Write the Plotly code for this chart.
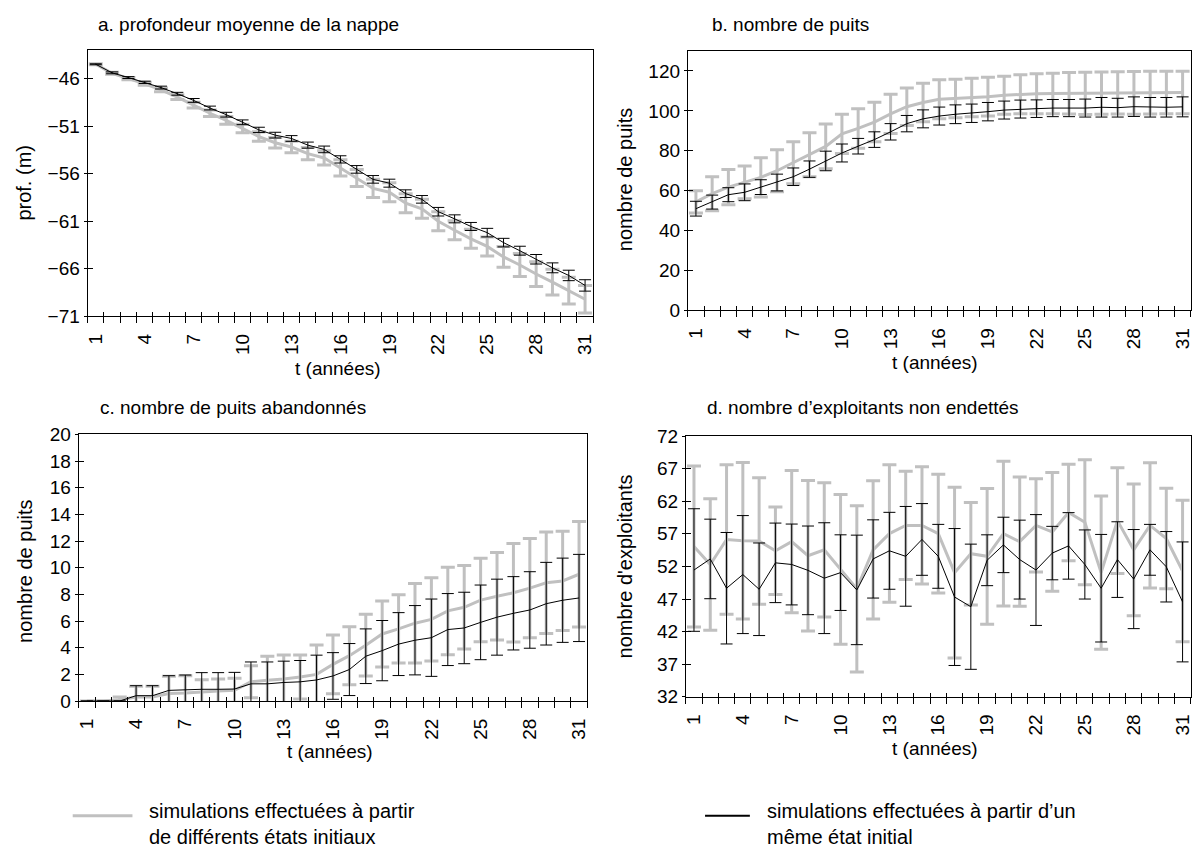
import plotly.graph_objects as go

# ---------------- data ----------------
t = list(range(1, 32))
x_tick_labels = [1, 4, 7, 10, 13, 16, 19, 22, 25, 28, 31]

# a. profondeur moyenne de la nappe (m)
a_diff_mean = [-44.5, -45.45, -46.0, -46.55, -47.2, -47.95, -48.8, -49.65, -50.4, -51.25,
               -52.1, -52.75, -53.2, -53.9, -54.35, -55.4, -56.45, -57.55, -57.95, -59.1,
               -59.7, -61.0, -61.95, -62.85, -63.65, -64.75, -65.6, -66.55, -67.4, -68.3, -69.2]
a_diff_err = [0.05, 0.1, 0.12, 0.15, 0.2, 0.25, 0.3, 0.35, 0.4, 0.45, 0.5, 0.55, 0.6, 0.65, 0.75,
              0.85, 0.9, 0.95, 1.0, 1.0, 1.0, 1.0, 1.0, 1.0, 1.0, 1.1, 1.2, 1.3, 1.35, 1.4, 1.45]
a_same_mean = [-44.5, -45.4, -45.9, -46.4, -46.95, -47.6, -48.3, -49.1, -49.8, -50.6,
               -51.4, -51.95, -52.3, -53.0, -53.45, -54.5, -55.55, -56.6, -57.0, -58.1,
               -58.7, -60.0, -60.75, -61.55, -62.2, -63.25, -64.1, -65.0, -65.9, -66.7, -67.75]
a_same_err = [0.05, 0.1, 0.1, 0.12, 0.15, 0.15, 0.2, 0.2, 0.25, 0.25, 0.28, 0.3, 0.3, 0.32, 0.35,
              0.38, 0.4, 0.4, 0.42, 0.4, 0.4, 0.45, 0.42, 0.42, 0.45, 0.45, 0.47, 0.5, 0.52, 0.55, 0.6]
a_yticks = [-71, -66, -61, -56, -51, -46]

# b. nombre de puits
b_diff_mean = [54.4, 58.5, 61.8, 64.2, 66.7, 70.0, 74.0, 78.0, 82.2, 88.5, 91.2, 94.4, 98.5,
               102.1, 104.2, 105.8, 106.2, 106.7, 107.1, 107.8, 108.3, 108.6, 108.7, 108.8,
               108.8, 108.9, 109.0, 109.0, 109.1, 109.2, 109.2]
b_diff_err = [5.6, 8.5, 8.8, 8.2, 9.8, 10.5, 10.5, 11.0, 11.2, 9.8, 9.9, 9.9, 9.8, 9.4, 9.6,
              9.8, 9.6, 9.6, 9.7, 9.5, 9.8, 10.0, 10.2, 10.4, 10.6, 10.6, 10.6, 10.7, 10.7, 10.7, 10.7]
b_same_mean = [51.0, 54.3, 58.0, 59.2, 61.8, 64.1, 67.0, 70.8, 74.9, 78.9, 82.3, 85.6, 89.5,
               93.6, 96.0, 97.4, 98.3, 98.8, 99.6, 100.4, 100.9, 101.1, 101.4, 101.4, 101.4,
               101.8, 101.6, 102.1, 101.8, 101.8, 102.0]
b_same_err = [3.7, 3.5, 3.5, 4.2, 3.7, 4.2, 4.4, 4.1, 4.9, 4.5, 3.9, 3.9, 4.1, 4.1, 4.5, 4.5,
              4.7, 4.6, 4.6, 4.5, 4.5, 4.4, 4.3, 4.3, 4.5, 4.9, 4.7, 4.9, 4.9, 4.9, 5.0]
b_yticks = [0, 20, 40, 60, 80, 100, 120]

# c. nombre de puits abandonnés
c_diff_mean = [0, 0, 0.1, 0.3, 0.3, 0.56, 0.6, 0.7, 0.75, 0.8, 1.44, 1.56, 1.65, 1.8, 2.0,
               2.75, 3.4, 4.19, 5.03, 5.41, 5.84, 6.12, 6.76, 7.03, 7.57, 7.86, 8.12, 8.47,
               8.87, 9.01, 9.51]
c_diff_err = [0, 0, 0.2, 0.8, 0.8, 1.3, 1.3, 0.9, 0.9, 0.9, 1.2, 1.8, 1.8, 1.65, 2.2, 2.2,
              2.18, 2.31, 2.47, 2.56, 2.98, 3.12, 3.28, 3.13, 3.13, 3.28, 3.7, 3.72, 3.8, 3.72, 3.95]
c_same_mean = [0, 0, 0, 0.4, 0.4, 0.8, 0.85, 0.88, 0.88, 0.9, 1.29, 1.29, 1.39, 1.44, 1.58,
               1.88, 2.36, 3.36, 3.78, 4.27, 4.56, 4.75, 5.36, 5.48, 5.9, 6.29, 6.58, 6.83,
               7.3, 7.56, 7.73]
c_same_err = [0, 0, 0, 0.75, 0.75, 1.1, 1.1, 1.25, 1.25, 1.25, 1.64, 1.64, 1.6, 1.6, 1.86,
              1.75, 1.95, 2.05, 2.26, 2.36, 2.6, 2.9, 2.7, 2.68, 2.8, 2.85, 2.75, 2.87, 3.1, 3.16, 3.27]
c_yticks = [0, 2, 4, 6, 8, 10, 12, 14, 16, 18, 20]

# d. nombre d'exploitants non endettés
d_diff_mean = [55.05, 52.3, 56.14, 55.95, 55.9, 54.4, 55.8, 53.65, 54.55, 51.55, 48.56,
               54.55, 57.04, 58.29, 58.29, 57.04, 51.05, 53.95, 53.55, 57.04, 55.8, 58.29,
               57.3, 60.28, 58.78, 51.05, 59.03, 54.55, 58.29, 56.29, 51.3]
d_diff_err = [12.35, 10.1, 11.47, 12.0, 9.7, 6.7, 10.9, 11.55, 10.3, 11.5, 12.74, 10.6, 10.55,
              8.3, 9.0, 9.1, 13.1, 7.86, 10.4, 11.1, 9.9, 7.16, 9.1, 7.4, 9.6, 11.77, 8.1,
              10.1, 9.6, 7.7, 10.85]
d_same_mean = [51.45, 53.15, 48.66, 50.75, 48.5, 52.55, 52.3, 51.4, 50.2, 51.05, 48.4, 53.15,
               54.4, 53.55, 56.14, 53.55, 47.31, 45.82, 52.95, 55.3, 53.05, 51.45, 54.05,
               55.15, 52.3, 48.66, 53.05, 50.06, 54.55, 51.95, 46.56]
d_same_err = [9.4, 6.1, 8.55, 9.05, 7.1, 6.1, 6.2, 6.8, 8.5, 5.8, 8.4, 6.0, 5.9, 7.65, 5.5,
              4.9, 10.5, 9.6, 3.9, 4.25, 6.05, 8.5, 4.1, 5.1, 5.3, 8.25, 5.8, 7.6, 3.9, 5.4, 9.2]
d_yticks = [32, 37, 42, 47, 52, 57, 62, 67, 72]

panel_titles = ["a. profondeur moyenne de la nappe", "b. nombre de puits",
                "c. nombre de puits abandonnés", "d. nombre d\u2019exploitants non endettés"]
y_titles = ["prof. (m)", "nombre de puits", "nombre de puits", "nombre d'exploitants"]
x_title = "t (années)"
legend_labels = ["simulations effectuées à partir<br>de différents états initiaux",
                 "simulations effectuées à partir d\u2019un<br>même état initial"]

# ---------------- style / layout ----------------
W, H = 1196, 861
GRAY = "#C0C0C0"
FONT = "Liberation Sans, Arial, sans-serif"
TICK_FS = 19
LABEL_FS = 20
TITLE_FS = 19
LEGEND_FS = 20


def px_x(v):
    return v / W


def px_y(v):
    return 1 - v / H


panels = [
    dict(diff=(a_diff_mean, a_diff_err), same=(a_same_mean, a_same_err), yticks=a_yticks,
         yrange=[-71, -43], box=(85, 592.7, 41, 314)),
    dict(diff=(b_diff_mean, b_diff_err), same=(b_same_mean, b_same_err), yticks=b_yticks,
         yrange=[0, 130], box=(687.7, 1192.7, 42, 308)),
    dict(diff=(c_diff_mean, c_diff_err), same=(c_same_mean, c_same_err), yticks=c_yticks,
         yrange=[0, 20], box=(76, 586.7, 435, 708.3)),
    dict(diff=(d_diff_mean, d_diff_err), same=(d_same_mean, d_same_err), yticks=d_yticks,
         yrange=[32, 72], box=(685.7, 1192.7, 436.7, 704)),
]

boundaries = [k + 0.5 for k in range(0, 32)]

fig = go.Figure()
layout_axes = {}

for i, p in enumerate(panels):
    n = i + 1
    xs = "x" if n == 1 else f"x{n}"
    ys = "y" if n == 1 else f"y{n}"
    xo, yo = f"x{n + 4}", f"y{n + 4}"
    dm, de = p["diff"]
    sm, se = p["same"]
    fig.add_trace(go.Scatter(
        x=t, y=dm, mode="lines", line=dict(color=GRAY, width=3),
        error_y=dict(type="data", array=de, visible=True, color=GRAY, thickness=3, width=7),
        xaxis=xs, yaxis=ys, cliponaxis=False, showlegend=False, hoverinfo="skip"))
    fig.add_trace(go.Scatter(
        x=t, y=sm, mode="lines", line=dict(color="black", width=1),
        error_y=dict(type="data", array=se, visible=True, color="black", thickness=1, width=6),
        xaxis=xs, yaxis=ys, cliponaxis=False, showlegend=False, hoverinfo="skip"))
    # invisible helper trace for overlay axes (inner half of the crossing ticks)
    fig.add_trace(go.Scatter(x=[None], y=[None], xaxis=xo, yaxis=yo,
                             showlegend=False, hoverinfo="skip"))

    x0, x1, y0, y1 = p["box"]
    xdom = [px_x(x0), min(px_x(x1), 1.0)]
    ydom = [px_y(y1), px_y(y0)]
    xkey = "xaxis" if n == 1 else f"xaxis{n}"
    ykey = "yaxis" if n == 1 else f"yaxis{n}"
    layout_axes[xkey] = dict(
        domain=xdom, anchor=ys, range=[0.5, 31.5], tickmode="array",
        tickvals=x_tick_labels, ticktext=[str(v) for v in x_tick_labels],
        tickangle=-90, ticks="", ticklabelstandoff=9,
        showline=True, linecolor="black", linewidth=1, mirror=True,
        showgrid=False, zeroline=False,
        tickfont=dict(family=FONT, size=TICK_FS, color="black"),
        minor=dict(tickmode="array", tickvals=boundaries, ticks="outside",
                   ticklen=6, tickwidth=1, tickcolor="black", showgrid=False))
    layout_axes[ykey] = dict(
        domain=ydom, anchor=xs, range=p["yrange"], tickmode="array",
        tickvals=p["yticks"], ticks="outside", ticklen=3, tickwidth=1, tickcolor="black",
        showline=True, linecolor="black", linewidth=1, mirror=True,
        showgrid=False, zeroline=False,
        tickfont=dict(family=FONT, size=TICK_FS, color="black"))
    layout_axes[f"xaxis{n + 4}"] = dict(
        overlaying=xs, anchor=ys, side="bottom", range=[0.5, 31.5], tickmode="array",
        tickvals=boundaries, ticks="inside", ticklen=4, tickwidth=1, tickcolor="black",
        showticklabels=False, showgrid=False, zeroline=False, showline=False)
    layout_axes[f"yaxis{n + 4}"] = dict(
        overlaying=ys, anchor=xs, side="left", range=p["yrange"], tickmode="array",
        tickvals=p["yticks"], ticks="inside", ticklen=5, tickwidth=1, tickcolor="black",
        showticklabels=False, showgrid=False, zeroline=False, showline=False)

annotations = []
title_pos = [(93, 15), (710, 15), (95, 407), (705, 407)]
for (tx, ty), txt in zip(title_pos, panel_titles):
    annotations.append(dict(text=txt, x=px_x(tx), y=px_y(ty), xref="paper", yref="paper",
                            xanchor="left", yanchor="middle", showarrow=False,
                            font=dict(family=FONT, size=TITLE_FS, color="black")))
ytitle_pos = [(21, 177), (624, 174), (22, 575), (625, 570)]
for (tx, ty), txt in zip(ytitle_pos, y_titles):
    annotations.append(dict(text=txt, x=px_x(tx), y=px_y(ty), xref="paper", yref="paper",
                            xanchor="center", yanchor="middle", textangle=-90, showarrow=False,
                            font=dict(family=FONT, size=LABEL_FS, color="black")))
xtitle_pos = [(336, 367), (936, 361), (328, 760), (936, 757)]
for tx, ty in xtitle_pos:
    annotations.append(dict(text=x_title, x=px_x(tx), y=px_y(ty), xref="paper", yref="paper",
                            xanchor="center", yanchor="middle", showarrow=False,
                            font=dict(family=FONT, size=LABEL_FS - 1, color="black")))

# legend (manual, bottom)
legend_items = [(GRAY, 3, 70, 130, 145), ("black", 2, 705, 750, 765)]
shapes = []
for (col, lw, lx0, lx1, tx), lab in zip(legend_items, legend_labels):
    shapes.append(dict(type="line", xref="paper", yref="paper",
                       x0=px_x(lx0), x1=px_x(lx1), y0=px_y(826), y1=px_y(826),
                       line=dict(color=col, width=lw)))
    annotations.append(dict(text=lab, x=px_x(tx), y=px_y(834), xref="paper", yref="paper",
                            xanchor="left", yanchor="middle", align="left", showarrow=False,
                            font=dict(family=FONT, size=LEGEND_FS, color="black")))

fig.update_layout(
    width=W, height=H, margin=dict(l=0, r=0, t=0, b=0),
    paper_bgcolor="white", plot_bgcolor="white", showlegend=False,
    font=dict(family=FONT, color="black"),
    annotations=annotations, shapes=shapes, **layout_axes)

# remove the default 8px page margin so that the figure fills the window exactly
fig.write_html("out.html", config={"displayModeBar": False},
               post_script="document.body.style.margin='0';document.body.style.overflow='hidden';")
